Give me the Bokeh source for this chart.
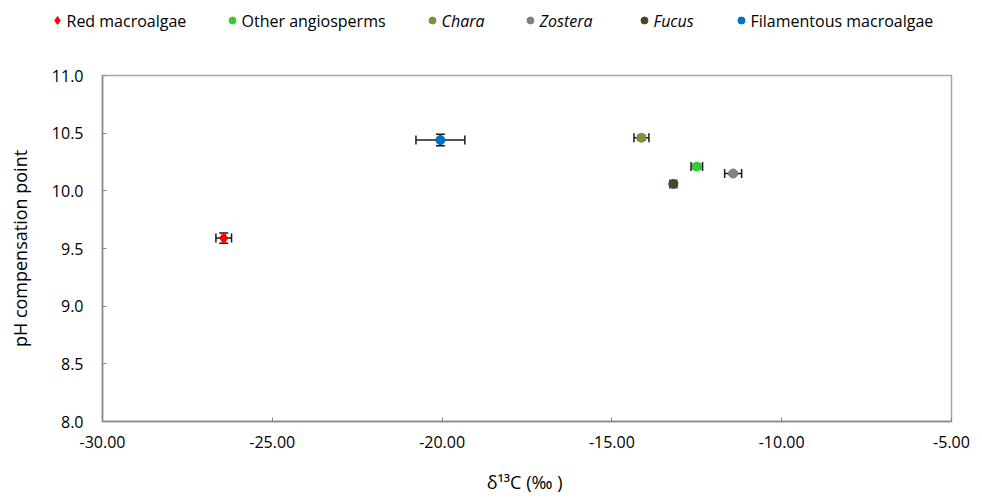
from bokeh.plotting import figure
from bokeh.models import (ColumnDataSource, Whisker, TeeHead, Range1d,
                          SingleIntervalTicker, NumeralTickFormatter)
from bokeh.core.properties import value
from bokeh.embed import file_html
from bokeh.resources import INLINE

# ---- data ----
groups = ["Red macroalgae", "Other angiosperms", "Chara", "Zostera", "Fucus",
          "Filamentous macroalgae"]
d13c = [-26.43, -12.50, -14.13, -11.43, -13.19, -20.05]
d13c_err = [0.23, 0.17, 0.22, 0.25, 0.10, 0.72]
ph = [9.59, 10.21, 10.46, 10.15, 10.06, 10.44]
ph_err = [0.045, 0.02, 0.02, 0.01, 0.01, 0.05]
colors = ["#FF0000", "#33CC33", "#77933C", "#808080", "#4A452A", "#0070C0"]
markers = ["diamond", "circle", "circle", "circle", "circle", "circle"]
italic = [False, False, True, True, True, False]

# ---- layout constants ----
W = 980
LEG_H = 40
MAIN_H = 457
FONT = "Open Sans"
AX = "#868686"
legend_marker_x = [57, 232, 432, 530, 644, 741]

# ---- legend strip (separate root, so no frame alignment) ----
leg = figure(width=W, height=LEG_H, output_backend="svg", toolbar_location=None,
             x_range=Range1d(0, W), y_range=Range1d(LEG_H, 0),
             x_axis_type=None, y_axis_type=None,
             min_border=0, min_border_left=0, min_border_right=0,
             min_border_top=0, min_border_bottom=0)
leg.outline_line_color = None
leg.xgrid.visible = False
leg.ygrid.visible = False
for i in range(len(groups)):
    leg.scatter(x=[legend_marker_x[i]], y=[20], marker=markers[i],
                size=8 if markers[i] == "diamond" else 7,
                fill_color=colors[i], line_color=colors[i])
    leg.text(x=[legend_marker_x[i] + 9], y=[20], text=[groups[i]],
             text_font=value(FONT), text_font_size="16px",
             text_font_style="italic" if italic[i] else "normal",
             text_color="#000000", text_align="left", text_baseline="middle")

# ---- main plot ----
p = figure(width=W, height=MAIN_H, output_backend="svg", toolbar_location=None,
           x_range=Range1d(-30, -5), y_range=Range1d(8, 11),
           min_border_left=102, min_border_right=29, min_border_top=35,
           min_border_bottom=76)
p.xgrid.visible = False
p.ygrid.visible = False
p.outline_line_color = "#A6A6A6"
p.outline_line_width = 1.5

src = ColumnDataSource(dict(
    x=d13c, y=ph,
    xl=[a - b for a, b in zip(d13c, d13c_err)], xu=[a + b for a, b in zip(d13c, d13c_err)],
    yl=[a - b for a, b in zip(ph, ph_err)], yu=[a + b for a, b in zip(ph, ph_err)],
))

EB = "#1A1A1A"
wx = Whisker(source=src, base="y", lower="xl", upper="xu", dimension="width",
             line_color=EB, line_width=1.5,
             lower_head=TeeHead(size=9, line_color=EB, line_width=1.5),
             upper_head=TeeHead(size=9, line_color=EB, line_width=1.5))
wy = Whisker(source=src, base="x", lower="yl", upper="yu", dimension="height",
             line_color=EB, line_width=1.5,
             lower_head=TeeHead(size=9, line_color=EB, line_width=1.5),
             upper_head=TeeHead(size=9, line_color=EB, line_width=1.5))
p.add_layout(wx)
p.add_layout(wy)

for i in range(len(groups)):
    s = ColumnDataSource(dict(x=[d13c[i]], y=[ph[i]]))
    size = 12 if markers[i] == "diamond" else 9
    p.scatter("x", "y", source=s, marker=markers[i], size=size,
              fill_color=colors[i], line_color=colors[i])

for ax in (p.xaxis[0], p.yaxis[0]):
    ax.axis_line_color = AX
    ax.axis_line_width = 1.5
    ax.major_tick_line_color = AX
    ax.major_tick_in = 4
    ax.major_tick_out = 0
    ax.minor_tick_line_color = None
    ax.major_label_text_font = FONT
    ax.major_label_text_font_size = "16px"
    ax.major_label_text_color = "#000000"
    ax.axis_label_text_font = FONT
    ax.axis_label_text_font_size = "18px"
    ax.axis_label_text_font_style = "normal"
    ax.axis_label_text_color = "#000000"

p.xaxis.ticker = SingleIntervalTicker(interval=5)
p.xaxis.formatter = NumeralTickFormatter(format="0.00")
p.xaxis.major_label_standoff = 10
p.xaxis.axis_label = "δ¹³C  (‰ )"
p.xaxis.axis_label_standoff = 19

p.yaxis.ticker = SingleIntervalTicker(interval=0.5)
p.yaxis.formatter = NumeralTickFormatter(format="0.0")
p.yaxis.major_label_standoff = 15
p.yaxis.axis_label = "pH compensation point"
p.yaxis.axis_label_standoff = 17

open("out.html", "w").write(file_html((leg, p), INLINE))
